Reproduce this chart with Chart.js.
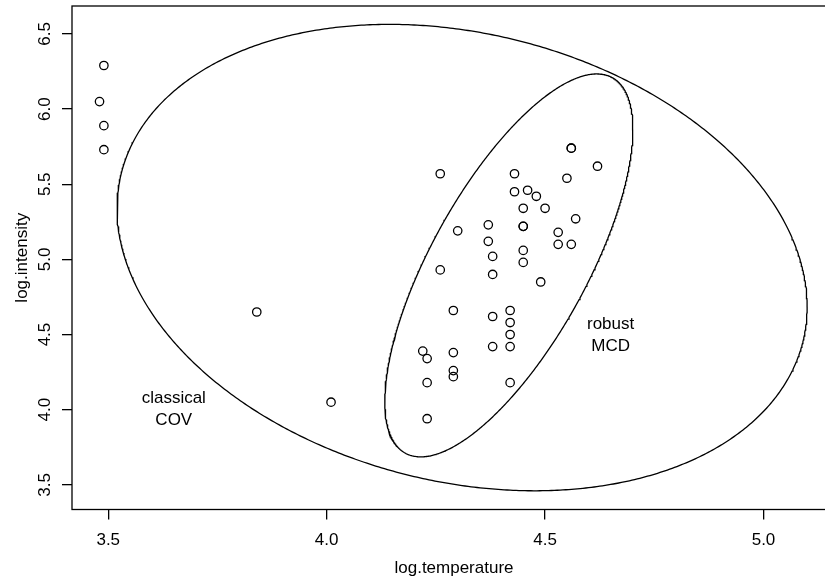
<!DOCTYPE html>
<html>
<head>
<meta charset="utf-8">
<script src="https://cdn.jsdelivr.net/npm/chart.js@4"></script>
<style>
html,body{margin:0;padding:0;background:#fff;overflow:hidden;}
canvas{display:block;}
</style>
</head>
<body>
<canvas id="c" width="850" height="587"></canvas>
<script>
// starsCYG data
const logTemperature = [4.37,4.56,4.26,4.56,4.30,4.46,3.84,4.57,4.26,4.37,
  3.49,4.43,4.48,4.01,4.29,4.42,4.23,4.42,4.23,3.49,
  4.29,4.29,4.42,4.49,4.38,4.42,4.29,4.38,4.22,3.48,
  4.38,4.56,4.45,3.49,4.23,4.62,4.53,4.45,4.53,4.43,
  4.38,4.45,4.50,4.45,4.55,4.45,4.42];
const logIntensity = [5.23,5.74,4.93,5.74,5.19,5.46,4.65,5.27,5.57,5.12,
  5.73,5.45,5.42,4.05,4.26,4.58,3.94,4.18,4.18,5.89,
  4.38,4.22,4.42,4.85,5.02,4.66,4.66,4.90,4.39,6.05,
  4.42,5.10,5.22,6.29,4.34,5.62,5.10,5.22,5.18,5.57,
  4.62,5.06,5.34,5.34,5.54,4.98,4.50];
const xTicks = [3.5, 4.0, 4.5, 5.0];
const yTicks = [3.5, 4.0, 4.5, 5.0, 5.5, 6.0, 6.5];
// robust MCD estimates
const mcdCenter = [4.417, 4.96];
const mcdCov = [[0.01093, 0.0348], [0.0348, 0.2200]];
const tolLevel = 0.975;
const annotations = [
  {x: 4.650, y: 4.497, lines: ['robust', 'MCD']},
  {x: 3.650, y: 4.005, lines: ['classical', 'COV']}
];

function classicalEstimates(xs, ys) {
  const n = xs.length;
  const mx = xs.reduce((a, b) => a + b, 0) / n;
  const my = ys.reduce((a, b) => a + b, 0) / n;
  let sxx = 0, syy = 0, sxy = 0;
  for (let i = 0; i < n; i++) {
    sxx += (xs[i] - mx) ** 2; syy += (ys[i] - my) ** 2; sxy += (xs[i] - mx) * (ys[i] - my);
  }
  return {center: [mx, my], cov: [[sxx / (n - 1), sxy / (n - 1)], [sxy / (n - 1), syy / (n - 1)]]};
}
function ellipsePoints(center, cov, level) {
  const c = Math.sqrt(-2 * Math.log(1 - level));
  const l11 = Math.sqrt(cov[0][0]);
  const l21 = cov[1][0] / l11;
  const l22 = Math.sqrt(cov[1][1] - l21 * l21);
  const pts = [];
  const N = 720;
  for (let i = 0; i <= N; i++) {
    const t = i * 2 * Math.PI / N;
    const u = c * Math.cos(t), v = c * Math.sin(t);
    pts.push({x: center[0] + l11 * u, y: center[1] + l21 * u + l22 * v});
  }
  return pts;
}
const cls = classicalEstimates(logTemperature, logIntensity);
const points = logTemperature.map((x, i) => ({x: x, y: logIntensity[i]}));

const FONT = 'Liberation Sans, Arial, Helvetica, sans-serif';

const boxPlugin = {
  id: 'box',
  afterDraw(chart) {
    const {ctx, chartArea: a, scales} = chart;
    ctx.save();
    ctx.strokeStyle = '#000';
    ctx.lineWidth = 1.3;
    ctx.strokeRect(a.left, a.top, a.right - a.left, a.bottom - a.top);
    // vertical y tick labels, as R draws them
    ctx.fillStyle = '#000';
    ctx.font = '17px ' + FONT;
    ctx.textAlign = 'center';
    ctx.textBaseline = 'middle';
    yTicks.forEach(v => {
      const py = scales.y.getPixelForValue(v);
      ctx.save();
      ctx.translate(a.left - 26.5, py);
      ctx.rotate(-Math.PI / 2);
      ctx.fillText(v.toFixed(1), 0, 0);
      ctx.restore();
    });
    ctx.restore();
  }
};
const textPlugin = {
  id: 'annot',
  afterDatasetsDraw(chart) {
    const {ctx, scales} = chart;
    ctx.save();
    ctx.fillStyle = '#000';
    ctx.font = '17px ' + FONT;
    ctx.textAlign = 'center';
    ctx.textBaseline = 'middle';
    annotations.forEach(an => {
      const px = scales.x.getPixelForValue(an.x);
      const py = scales.y.getPixelForValue(an.y);
      const lh = 22;
      an.lines.forEach((t, k) => {
        ctx.fillText(t, px, py + (k - (an.lines.length - 1) / 2) * lh);
      });
    });
    ctx.restore();
  }
};

new Chart(document.getElementById('c'), {
  type: 'scatter',
  data: {
    datasets: [
      {data: points, pointRadius: 4.2, pointBorderWidth: 1.3, pointBackgroundColor: 'rgba(0,0,0,0)',
       pointBorderColor: '#000', showLine: false},
      {data: ellipsePoints(cls.center, cls.cov, tolLevel), showLine: true, pointRadius: 0,
       borderColor: '#000', borderWidth: 1.3, fill: false, tension: 0},
      {data: ellipsePoints(mcdCenter, mcdCov, tolLevel), showLine: true, pointRadius: 0,
       borderColor: '#000', borderWidth: 1.3, fill: false, tension: 0}
    ]
  },
  options: {
    responsive: false,
    animation: false,
    layout: {padding: {top: 6, right: 14, left: 0, bottom: 0}},
    plugins: {legend: {display: false}, tooltip: {enabled: false}},
    scales: {
      x: {
        type: 'linear', min: 3.417, max: 5.166,
        afterBuildTicks(s) { s.ticks = xTicks.map(v => ({value: v})); },
        afterFit(s) { s.height = 77.5; },
        grid: {drawOnChartArea: false, drawTicks: true, tickLength: 10, color: '#000', lineWidth: 1.3},
        border: {display: false},
        ticks: {color: '#000', font: {size: 17, family: FONT}, padding: 11,
                callback: v => Number(v).toFixed(1), maxRotation: 0, minRotation: 0},
        title: {display: true, text: 'log.temperature', color: '#000',
                font: {size: 17, family: FONT}, padding: {top: 4, bottom: 8}}
      },
      y: {
        type: 'linear', min: 3.336, max: 6.686,
        afterBuildTicks(s) { s.ticks = yTicks.map(v => ({value: v})); },
        afterFit(s) { s.width = 72; },
        grid: {drawOnChartArea: false, drawTicks: true, tickLength: 10, color: '#000', lineWidth: 1.3},
        border: {display: false},
        ticks: {display: false},
        title: {display: true, text: 'log.intensity', color: '#000',
                font: {size: 17, family: FONT}, padding: {top: 12, bottom: 4}}
      }
    }
  },
  plugins: [boxPlugin, textPlugin]
});
</script>
</body>
</html>
